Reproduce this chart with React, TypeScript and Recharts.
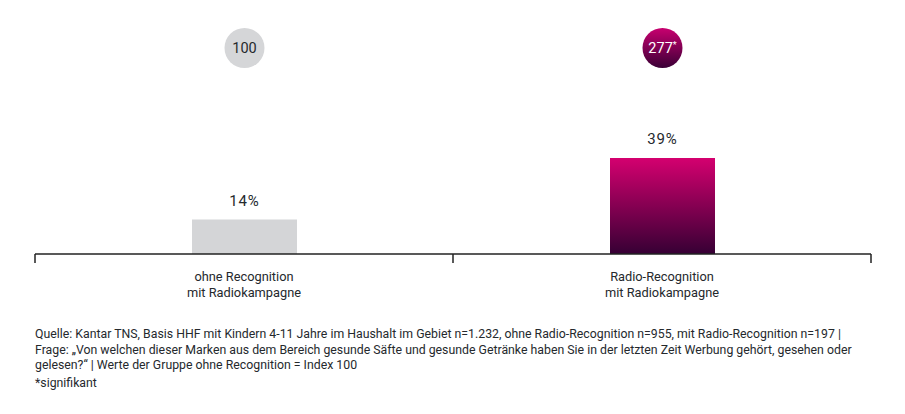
import React from 'react';
import { BarChart, Bar, XAxis, YAxis, Cell, LabelList } from 'recharts';

// --- data ---
const categories = ['ohne Recognition\nmit Radiokampagne', 'Radio-Recognition\nmit Radiokampagne'];
const shares = [14, 39];
const indexValues = [100, 277];
const significant = [false, true];
const footnoteLines = [
  'Quelle: Kantar TNS, Basis HHF mit Kindern 4-11 Jahre im Haushalt im Gebiet n=1.232, ohne Radio-Recognition n=955, mit Radio-Recognition n=197  |',
  'Frage: „Von welchen dieser Marken aus dem Bereich gesunde Säfte und gesunde Getränke haben Sie in der letzten Zeit Werbung gehört, gesehen oder',
  'gelesen?“ | Werte der Gruppe ohne Recognition = Index 100',
];
const footnoteStar = '*signifikant';

const data = categories.map((name, i) => ({
  name,
  share: shares[i],
  index: indexValues[i],
  sig: significant[i],
}));

const TEXT = '#25292d';
const FONT = 'Roboto, "Noto Sans", sans-serif';
const CHART_W = 905;
const CHART_H = 310;
const MARGIN = { top: 8, right: 34, bottom: 0, left: 35 };

// category ticks: label text at band centre, tick marks at band edges
const CategoryTick = (props: any) => {
  const { x, y, payload, index } = props;
  const half = payload?.offset || (CHART_W - MARGIN.left - MARGIN.right) / categories.length / 2;
  const lines = String(payload.value).split('\n');
  return (
    <g>
      {index === 0 && <line x1={x - half} x2={x - half} y1={y} y2={y + 9} stroke="#222" strokeWidth={1.5} />}
      <line x1={x + half} x2={x + half} y1={y} y2={y + 9} stroke="#222" strokeWidth={1.5} />
      {lines.map((l, i) => (
        <text key={i} x={x} y={y + 27 + i * 16} textAnchor="middle" fontSize={12.8} fill={TEXT} fontFamily={FONT}>
          {l}
        </text>
      ))}
    </g>
  );
};

// index bubble above each bar, in a fixed row near the top
const IndexBubble = (props: any) => {
  const { x, width, index } = props;
  const row = data[index];
  const cx = x + width / 2;
  const cy = MARGIN.top + 40;
  return (
    <g>
      <circle cx={cx} cy={cy} r={20} fill={row.sig ? 'url(#bubbleGrad)' : '#d5d6d8'} />
      <text x={cx} y={cy + 5} textAnchor="middle" fontSize={14.5} fontFamily={FONT} fill={row.sig ? '#fff' : TEXT}>
        {row.index}
        {row.sig && <tspan fontSize={9} dy={-5}>*</tspan>}
      </text>
    </g>
  );
};

const ShareLabel = (props: any) => {
  const { x, y, width, value } = props;
  return (
    <text x={x + width / 2} y={y - 14} textAnchor="middle" fontSize={15} letterSpacing={0.8} fontFamily={FONT} fill={TEXT}>
      {value}%
    </text>
  );
};

export default function App() {
  return (
    <div style={{ position: 'absolute', left: 0, top: 0, width: 905, height: 414, background: '#fff', fontFamily: FONT }}>
      <BarChart width={CHART_W} height={CHART_H} data={data} margin={MARGIN}>
        <defs>
          <linearGradient id="barGrad" x1="0" y1="0" x2="0" y2="1">
            <stop offset="0%" stopColor="#d4006f" />
            <stop offset="100%" stopColor="#360034" />
          </linearGradient>
          <linearGradient id="bubbleGrad" x1="0" y1="0" x2="0" y2="1">
            <stop offset="0%" stopColor="#c8006f" />
            <stop offset="100%" stopColor="#3a0036" />
          </linearGradient>
        </defs>
        <YAxis hide domain={[0, 100]} />
        <XAxis
          dataKey="name"
          height={56}
          interval={0}
          tickLine={false}
          tickSize={0}
          tickMargin={0}
          axisLine={{ stroke: '#222', strokeWidth: 1.5 }}
          tick={<CategoryTick />}
        />
        <Bar dataKey="share" barSize={105} isAnimationActive={false}>
          {data.map((d, i) => (
            <Cell key={i} fill={d.sig ? 'url(#barGrad)' : '#d4d5d7'} />
          ))}
          <LabelList dataKey="share" content={<ShareLabel />} />
          <LabelList dataKey="index" content={<IndexBubble />} />
        </Bar>
      </BarChart>
      <div style={{ position: 'absolute', left: 35, top: 327, fontSize: 12.3, lineHeight: '15.5px', color: TEXT, whiteSpace: 'nowrap' }}>
        {footnoteLines.map((l, i) => (
          <div key={i}>{l}</div>
        ))}
        <div style={{ marginTop: 2 }}>{footnoteStar}</div>
      </div>
    </div>
  );
}
